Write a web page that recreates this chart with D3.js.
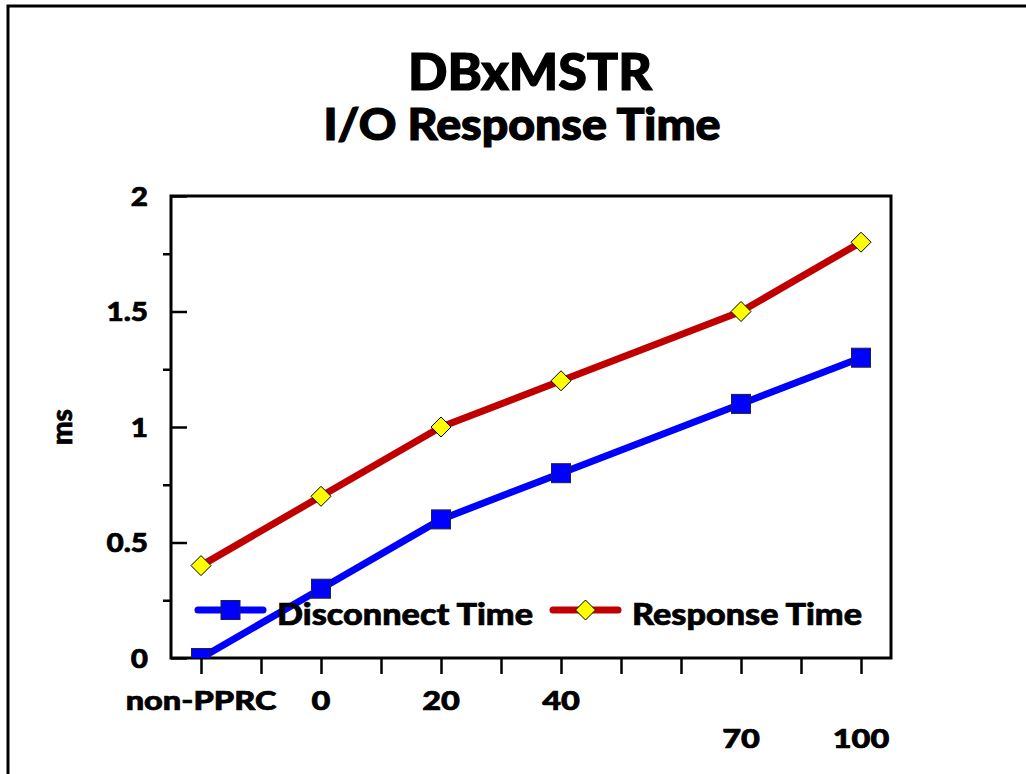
<!DOCTYPE html>
<html>
<head>
<meta charset="utf-8">
<script src="https://cdn.jsdelivr.net/npm/d3@7"></script>
<style>
  html, body { margin: 0; padding: 0; background: #fff; overflow: hidden; }
  text { font-family: Lato, "DejaVu Sans", sans-serif; font-weight: 900; fill: #000;
         stroke: #000; stroke-width: 0.7px; }
  text.title { stroke-width: 1.2px; }
</style>
</head>
<body>
<div id="chart"></div>
<script>
// category slots along the x axis (blank slots keep the gaps)
const categories = ["non-PPRC", "", "0", "", "20", "", "40", "", "", "70", "", "100"];
// series values per slot, null where the slot has no point
const disconnectTime = [0, null, 0.3, null, 0.6, null, 0.8, null, null, 1.1, null, 1.3];
const responseTime   = [0.4, null, 0.7, null, 1.0, null, 1.2, null, null, 1.5, null, 1.8];
const yTickLabels = [0, 0.5, 1, 1.5, 2];
const yMinorTicks = [0.25, 0.75, 1.25, 1.75];

const W = 1026, H = 774;
const margin = {top: 196, right: 135, bottom: 116, left: 171};
const width = W - margin.left - margin.right;
const height = H - margin.top - margin.bottom;

// stretch text a bit wider, the original face is broader than Lato
function widen(sel, k) {
    sel.each(function () {
        const len = this.getComputedTextLength();
        d3.select(this).attr("textLength", len * k).attr("lengthAdjust", "spacingAndGlyphs");
    });
}

const svg = d3.select("#chart").append("svg")
    .attr("width", W)
    .attr("height", H);

// outer frame, only top and left edges show
svg.append("rect")
    .attr("x", 8).attr("y", 6)
    .attr("width", W + 20).attr("height", H + 20)
    .attr("fill", "none")
    .attr("stroke", "#000")
    .attr("stroke-width", 3);

// titles
svg.append("text")
    .attr("class", "title")
    .attr("x", 530).attr("y", 90)
    .attr("text-anchor", "middle")
    .attr("font-size", 51)
    .attr("textLength", 244).attr("lengthAdjust", "spacingAndGlyphs")
    .text("DBxMSTR");
svg.append("text")
    .attr("class", "title")
    .attr("x", 522).attr("y", 140)
    .attr("text-anchor", "middle")
    .attr("font-size", 44)
    .attr("textLength", 397).attr("lengthAdjust", "spacingAndGlyphs")
    .text("I/O Response Time");

const g = svg.append("g")
    .attr("transform", "translate(" + margin.left + "," + margin.top + ")");

const x = d3.scalePoint()
    .domain(d3.range(categories.length))
    .range([0, width])
    .padding(0.5);
const y = d3.scaleLinear()
    .domain([0, 2])
    .range([height, 0]);

g.append("clipPath").attr("id", "plotClip")
    .append("rect")
    .attr("width", width).attr("height", height);

// y axis: major ticks inward with labels, minor ticks outward
const yAxis = g.append("g")
    .call(d3.axisRight(y).tickValues(yTickLabels).tickSize(16).tickFormat(""));
yAxis.select(".domain").remove();
yAxis.selectAll("line").attr("stroke-width", 2.5);
g.append("g")
    .call(d3.axisLeft(y).tickValues(yMinorTicks).tickSize(8).tickFormat(""))
    .call(s => s.select(".domain").remove())
    .selectAll("line").attr("stroke-width", 2.5);
g.selectAll(".ylab")
    .data(yTickLabels)
    .join("text")
    .attr("class", "ylab")
    .attr("x", -23)
    .attr("y", d => y(d))
    .attr("dy", "0.36em")
    .attr("text-anchor", "end")
    .attr("font-size", 27)
    .text(d => d)
    .call(widen, 1.1);

// x axis: ticks outward, staggered labels by slot parity
const xAxis = g.append("g")
    .attr("transform", "translate(0," + height + ")")
    .call(d3.axisBottom(x).tickSize(16).tickFormat(""));
xAxis.select(".domain").remove();
xAxis.selectAll("line").attr("stroke-width", 2.5);
g.selectAll(".xlab")
    .data(categories.map((c, i) => ({c, i})).filter(d => d.c !== ""))
    .join("text")
    .attr("class", "xlab")
    .attr("x", d => x(d.i))
    .attr("y", d => height + (d.i % 2 === 0 ? 52 : 90))
    .attr("text-anchor", "middle")
    .attr("font-size", 26)
    .text(d => d.c)
    .call(widen, 1.25);

// plot frame
g.append("rect")
    .attr("width", width).attr("height", height)
    .attr("fill", "none")
    .attr("stroke", "#000")
    .attr("stroke-width", 3);

// y axis title
svg.append("text")
    .attr("transform", "translate(72,427) rotate(-90)")
    .attr("text-anchor", "middle")
    .attr("font-size", 28)
    .text("ms");

const series = [
    {name: "Disconnect Time", values: disconnectTime, color: "#0000ff", marker: "square"},
    {name: "Response Time", values: responseTime, color: "#c00000", marker: "diamond"}
];

const line = d3.line()
    .x(d => x(d.i))
    .y(d => y(d.v));

const plot = g.append("g").attr("clip-path", "url(#plotClip)");

function drawMarker(sel, type) {
    if (type === "square") {
        sel.append("rect")
            .attr("x", -9.5).attr("y", -9.5)
            .attr("width", 19).attr("height", 19)
            .attr("fill", "#0000ff")
            .attr("stroke", "#202040")
            .attr("stroke-width", 1);
    } else {
        sel.append("path")
            .attr("d", "M0,-10L10,0L0,10L-10,0Z")
            .attr("fill", "#ffff00")
            .attr("stroke", "#000")
            .attr("stroke-width", 1);
    }
}

series.forEach(s => {
    const pts = s.values.map((v, i) => ({i, v})).filter(d => d.v !== null);
    plot.append("path")
        .datum(pts)
        .attr("d", line)
        .attr("fill", "none")
        .attr("stroke", s.color)
        .attr("stroke-width", 7)
        .attr("stroke-linejoin", "round");
    plot.selectAll(null)
        .data(pts)
        .join("g")
        .attr("transform", d => "translate(" + x(d.i) + "," + y(d.v) + ")")
        .each(function () { drawMarker(d3.select(this), s.marker); });
});

// legend inside plot
const legendPos = [27, 382];
const legendTextLen = [256, 230];
const legend = g.append("g").attr("transform", "translate(0," + (610 - margin.top) + ")");
series.forEach((s, k) => {
    const lg = legend.append("g").attr("transform", "translate(" + legendPos[k] + ",0)");
    lg.append("line")
        .attr("x1", 0).attr("x2", 65)
        .attr("stroke", s.color)
        .attr("stroke-width", 7)
        .attr("stroke-linecap", "round");
    drawMarker(lg.append("g").attr("transform", "translate(32.5,0)"), s.marker);
    lg.append("text")
        .attr("x", 79)
        .attr("y", 15)
        .attr("font-size", 30)
        .attr("textLength", legendTextLen[k]).attr("lengthAdjust", "spacingAndGlyphs")
        .text(s.name);
});
</script>
</body>
</html>
